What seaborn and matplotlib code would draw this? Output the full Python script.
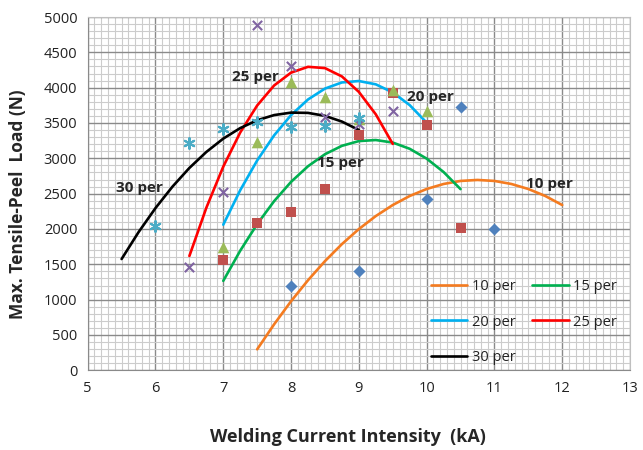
import pandas as pd
import seaborn as sns
import matplotlib.pyplot as plt
from matplotlib.ticker import MultipleLocator

# measured points (markers)
x_10 = [8, 9, 10, 10.5, 11]
y_10 = [1200, 1400, 2420, 3720, 2000]
x_15 = [7, 7.5, 8, 8.5, 9, 9.5, 10, 10.5]
y_15 = [1560, 2080, 2240, 2560, 3330, 3920, 3470, 2020]
x_20 = [7, 7.5, 8, 8.5, 9, 9.5, 10]
y_20 = [1750, 3230, 4080, 3870, 3560, 3960, 3670]
x_25 = [6.5, 7, 7.5, 8, 8.5, 9, 9.5]
y_25 = [1460, 2530, 4880, 4310, 3590, 3490, 3670]
x_30 = [6, 6.5, 7, 7.5, 8, 8.5, 9]
y_30 = [2040, 3210, 3420, 3520, 3440, 3460, 3570]

# trend curves
cx_10 = [7.5, 7.75, 8, 8.25, 8.5, 8.75, 9, 9.25, 9.5, 9.75, 10, 10.25, 10.5, 10.75, 11, 11.25, 11.5, 11.75, 12]
cy_10 = [297, 651, 978, 1275, 1545, 1786, 1999, 2183, 2339, 2467, 2566, 2637, 2680, 2694, 2680, 2637, 2566, 2467, 2339]
cx_15 = [7, 7.25, 7.5, 7.75, 8, 8.25, 8.5, 8.75, 9, 9.25, 9.5, 9.75, 10, 10.25, 10.5]
cy_15 = [1266, 1693, 2069, 2394, 2667, 2888, 3058, 3177, 3244, 3259, 3223, 3135, 2996, 2806, 2564]
cx_20 = [7, 7.25, 7.5, 7.75, 8, 8.25, 8.5, 8.75, 9, 9.25, 9.5, 9.75, 10]
cy_20 = [2061, 2549, 2970, 3325, 3612, 3833, 3987, 4074, 4094, 4047, 3933, 3753, 3505]
cx_25 = [6.5, 6.75, 7, 7.25, 7.5, 7.75, 8, 8.25, 8.5, 8.75, 9, 9.25, 9.5]
cy_25 = [1618, 2300, 2883, 3366, 3748, 4031, 4213, 4295, 4277, 4159, 3940, 3622, 3204]
cx_30 = [5.5, 5.75, 6, 6.25, 6.5, 6.75, 7, 7.25, 7.5, 7.75, 8, 8.25, 8.5, 8.75, 9]
cy_30 = [1575, 1955, 2296, 2599, 2864, 3090, 3279, 3428, 3539, 3612, 3647, 3643, 3601, 3520, 3401]

labels = ['10 per', '15 per', '20 per', '25 per', '30 per']
line_colors = ['#F47B20', '#00B050', '#00B0F0', '#FF0000', '#000000']

sns.set_style('white')
plt.rcParams['font.family'] = ['Open Sans', 'DejaVu Sans']

fig = plt.figure(figsize=(6.43, 4.5), dpi=100)
ax = fig.add_axes([0.1364, 0.1771, 0.8434, 0.7851])

# trend lines
curves = [(cx_10, cy_10), (cx_15, cy_15), (cx_20, cy_20), (cx_25, cy_25), (cx_30, cy_30)]
for (cx, cy), lab, col in zip(curves, labels, line_colors):
    sns.lineplot(x=cx, y=cy, color=col, linewidth=1.9, label=lab, ax=ax, zorder=3)

# markers
sns.scatterplot(x=x_10, y=y_10, marker='D', color='#4F81BD', s=38, linewidth=0, ax=ax, zorder=4)
sns.scatterplot(x=x_15, y=y_15, marker='s', color='#C0504D', s=60, linewidth=0, ax=ax, zorder=4)
sns.scatterplot(x=x_20, y=y_20, marker='^', color='#9BBB59', s=70, linewidth=0, ax=ax, zorder=4)
sns.scatterplot(x=x_25, y=y_25, marker='x', color='#8064A2', s=45, linewidth=1.5, ax=ax, zorder=4)
sns.scatterplot(x=x_30, y=y_30, marker=(6, 2, 0), color='#4BACC6', s=60, linewidth=1.5, ax=ax, zorder=4)

# curve labels
for tx, ty, txt in [(11.81, 2636, '10 per'), (8.73, 2933, '15 per'), (10.05, 3872, '20 per'),
                    (7.48, 4157, '25 per'), (5.77, 2580, '30 per')]:
    ax.text(tx, ty, txt, fontsize=11, fontweight='bold', ha='center', va='center', zorder=5)

ax.set_xlim(5, 13)
ax.set_ylim(0, 5000)
ax.xaxis.set_major_locator(MultipleLocator(1))
ax.yaxis.set_major_locator(MultipleLocator(500))
ax.xaxis.set_minor_locator(MultipleLocator(0.1))
ax.yaxis.set_minor_locator(MultipleLocator(100))
ax.grid(which='minor', color='#cccccc', linewidth=0.8)
ax.grid(which='major', color='#8a8a8a', linewidth=1)
ax.set_axisbelow(True)
ax.tick_params(which='major', direction='out', length=4, color='#8a8a8a', labelsize=10.5, labelcolor='#222222')
ax.tick_params(which='minor', length=0)
for sp in ax.spines.values():
    sp.set_color('#bfbfbf')
ax.spines['left'].set_color('#8a8a8a')
ax.spines['bottom'].set_color('#8a8a8a')

ax.set_xlabel('Welding Current Intensity  (kA)', fontsize=13, fontweight='bold', va='center')
ax.set_ylabel('Max. Tensile-Peel  Load (N)', fontsize=12.5, fontweight='bold', va='center')
ax.xaxis.set_label_coords(0.479, -0.189)
ax.yaxis.set_label_coords(-0.128, 0.47)

# legend filled column-wise: 10/20/30 left, 15/25 right
lines = ax.get_lines()[:5]
order = [0, 2, 4, 1, 3]
ax.legend([lines[i] for i in order], [labels[i] for i in order], ncol=2, loc='lower right',
          bbox_to_anchor=(1.0, -0.022), frameon=False, fontsize=10.5, handlelength=2.5,
          handletextpad=0.3, columnspacing=1.15, labelspacing=1.4, labelcolor='#222222')

plt.savefig('out.png', dpi=100)
